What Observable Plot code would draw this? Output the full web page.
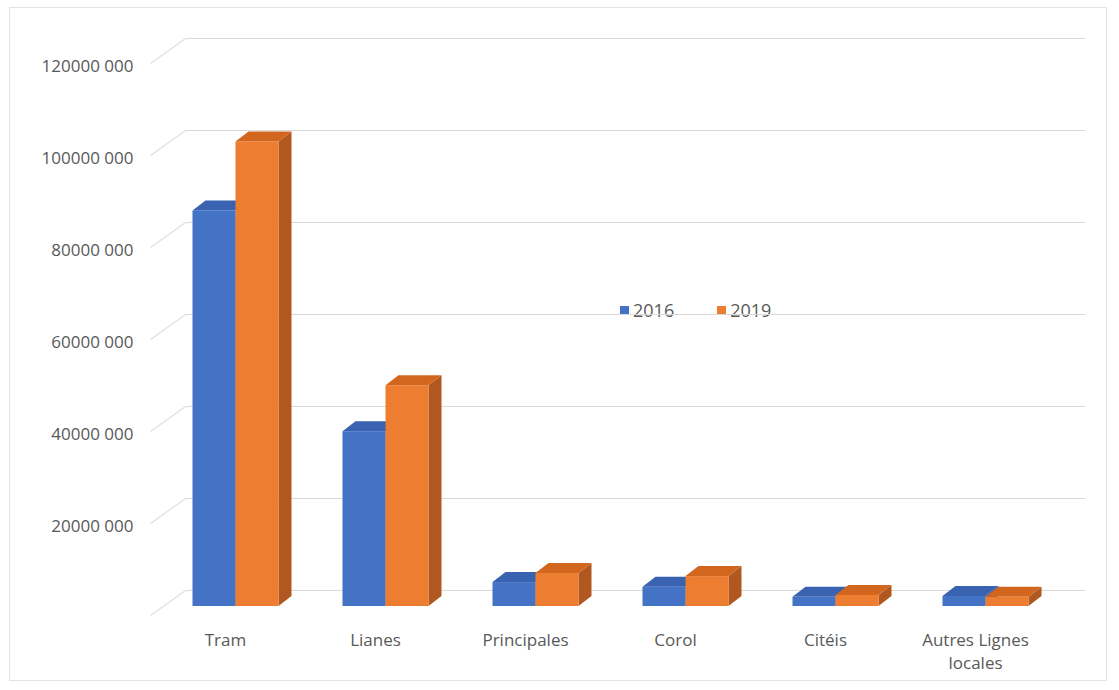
<!DOCTYPE html>
<html>
<head>
<meta charset="utf-8">
<script src="https://cdn.jsdelivr.net/npm/d3@7"></script>
<script src="https://cdn.jsdelivr.net/npm/@observablehq/plot@0.6"></script>
<style>
  html, body { margin: 0; padding: 0; background: #fff; }
  #wrap { position: relative; width: 1119px; height: 690px; overflow: hidden; font-family: "Open Sans", sans-serif; }
  #frame { position: absolute; left: 9px; top: 7px; width: 1098px; height: 674px; border: 1px solid #e4e4e4; box-sizing: border-box; pointer-events: none; }
  #legend { position: absolute; left: 620px; top: 298px; display: flex; gap: 43px; font-size: 18px; color: #595959; }
  #legend span.item { display: flex; align-items: center; }
  #legend span.sw { display: inline-block; width: 9px; height: 9px; margin-right: 4px; }
  svg { position: absolute; left: 0; top: 0; }
</style>
</head>
<body>
<div id="wrap"><div id="frame"></div><div id="legend"></div></div>
<script>
// ---- data ----
const categories = ["Tram", "Lianes", "Principales", "Corol", "Citéis", "Autres Lignes\nlocales"];
const series = ["2016", "2019"];
const values2016 = [86000000, 38000000, 5200000, 4200000, 2000000, 2200000];
const values2019 = [101000000, 48000000, 7200000, 6500000, 2400000, 2000000];
const yTicks = [0, 20000000, 40000000, 60000000, 80000000, 100000000, 120000000];

// ---- styling / geometry ----
const frontColors = {"2016": "#4472C4", "2019": "#ED7D31"};
const topColors = {"2016": "#3962B0", "2019": "#D2661E"};
const sideColors = {"2016": "#2F5597", "2019": "#B0581F"};
const pxX = 150, pxY = 4.6 / 1e6;          // px per x unit, px per value unit
const barPlaneDx = -24.5 / pxX, barPlaneDy = -16 / pxY;
const frontDx = -35 / pxX, frontDy = -25 / pxY;
const barW = 43 / pxX;
const depthDx = 13 / pxX, depthDy = 10 / pxY;

const valuesBySeries = {"2016": values2016, "2019": values2019};

const bars = [];
series.forEach((s, si) => {
  categories.forEach((c, i) => {
    const center = i + barPlaneDx;
    const x1 = si === 0 ? center - barW : center;
    const x2 = si === 0 ? center : center + barW;
    const v = valuesBySeries[s][i];
    bars.push({id: s + "-" + i, s, x1, x2, base: barPlaneDy, top: v + barPlaneDy});
  });
});

const marks = [
  Plot.ruleY(yTicks, {x1: -0.5, x2: 5.5, stroke: "#d9d9d9", strokeWidth: 1.2}),
  Plot.link(yTicks, {x1: -0.5 + frontDx, y1: d => d + frontDy, x2: -0.5, y2: d => d, stroke: "#e0e0e0", strokeWidth: 1.2}),
  Plot.text(yTicks.filter(d => d > 0), {
    x: -0.5 + frontDx, y: d => d + frontDy, dx: -17, dy: 3,
    text: d => `${d / 1000} 000`, textAnchor: "end", fontSize: 17, fill: "#595959"
  }),
  Plot.text(categories, {
    x: (d, i) => i + frontDx, y: frontDy, dy: 14, text: d => d,
    lineAnchor: "top", lineHeight: 1.35, fontSize: 17, fill: "#595959"
  })
];

for (const s of series) {
  const bs = bars.filter(b => b.s === s);
  const side = bs.flatMap(b => [
    {id: b.id, x: b.x2, y1: b.base, y2: b.top},
    {id: b.id, x: b.x2 + depthDx, y1: b.base + depthDy, y2: b.top + depthDy}
  ]);
  const top = bs.flatMap(b => [
    {id: b.id, y: b.top, x1: b.x1, x2: b.x2},
    {id: b.id, y: b.top + depthDy, x1: b.x1 + depthDx, x2: b.x2 + depthDx}
  ]);
  marks.push(
    Plot.areaY(side, {x: "x", y1: "y1", y2: "y2", z: "id", fill: sideColors[s]}),
    Plot.areaX(top, {y: "y", x1: "x1", x2: "x2", z: "id", fill: topColors[s]}),
    Plot.rect(bs, {x1: "x1", x2: "x2", y1: "base", y2: "top", fill: frontColors[s]})
  );
}

const chart = Plot.plot({
  width: 1119,
  height: 690,
  marginLeft: 185,
  marginRight: 34,
  marginTop: 38,
  marginBottom: 100,
  x: {type: "linear", domain: [-0.5, 5.5], axis: null},
  y: {type: "linear", domain: [0, 120000000], axis: null},
  style: {background: "transparent", fontFamily: "'Open Sans', sans-serif", overflow: "visible"},
  marks
});
document.getElementById("wrap").appendChild(chart);

const legend = document.getElementById("legend");
for (const s of series) {
  const item = document.createElement("span");
  item.className = "item";
  const sw = document.createElement("span");
  sw.className = "sw";
  sw.style.background = frontColors[s];
  item.appendChild(sw);
  item.appendChild(document.createTextNode(s));
  legend.appendChild(item);
}
</script>
</body>
</html>
